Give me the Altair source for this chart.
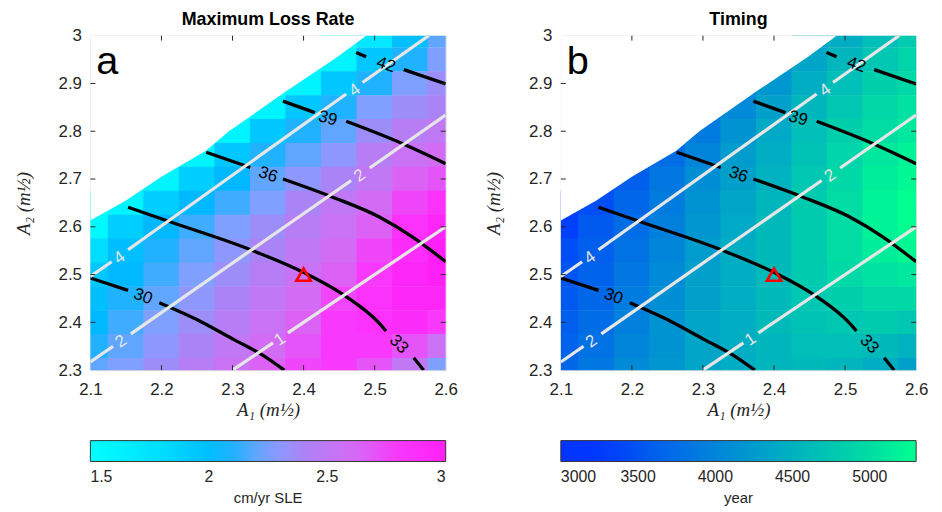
import altair as alt
import pandas as pd

# ---------------- data ----------------
A1 = [2.10, 2.15, 2.20, 2.25, 2.30, 2.35, 2.40, 2.45, 2.50, 2.55, 2.60]
A2 = [3.00, 2.95, 2.90, 2.85, 2.80, 2.75, 2.70, 2.65, 2.60, 2.55, 2.50, 2.45, 2.40, 2.35, 2.30]
N = None

# Maximum loss rate (cm/yr SLE); rows follow A2, columns follow A1
LOSS_RATE = [
    [N, N, N, N, N, N, N, 1.50, 1.70, 2.00, 2.20],
    [N, N, N, N, N, N, 1.50, 1.60, 1.95, 2.10, 2.25],
    [N, N, N, N, N, 1.50, 1.60, 1.95, 2.10, 2.25, 2.35],
    [N, N, N, N, 1.50, 1.60, 1.95, 2.10, 2.25, 2.35, 2.40],
    [N, N, N, 1.50, 1.60, 1.95, 2.10, 2.20, 2.35, 2.45, 2.50],
    [N, N, 1.50, 1.60, 1.95, 2.10, 2.20, 2.30, 2.45, 2.55, 2.60],
    [N, 1.50, 1.60, 1.90, 2.05, 2.20, 2.30, 2.40, 2.50, 2.65, 2.70],
    [1.50, 1.60, 1.90, 2.05, 2.15, 2.25, 2.40, 2.50, 2.60, 2.75, 2.85],
    [1.55, 1.90, 2.05, 2.15, 2.25, 2.35, 2.45, 2.55, 2.65, 2.85, 2.95],
    [1.80, 2.00, 2.10, 2.20, 2.30, 2.40, 2.50, 2.60, 2.75, 2.90, 3.00],
    [1.95, 2.05, 2.15, 2.25, 2.35, 2.45, 2.55, 2.65, 2.80, 2.95, 3.00],
    [2.00, 2.10, 2.20, 2.30, 2.40, 2.50, 2.60, 2.75, 2.85, 2.95, 2.95],
    [2.05, 2.15, 2.25, 2.35, 2.45, 2.55, 2.65, 2.80, 2.85, 2.90, 2.80],
    [2.10, 2.20, 2.30, 2.40, 2.50, 2.60, 2.70, 2.80, 2.80, 2.70, 2.55],
    [2.20, 2.25, 2.35, 2.45, 2.55, 2.65, 2.75, 2.80, 2.70, 2.50, 2.25],
]

# Timing (year); rows follow A2, columns follow A1
TIMING = [
    [N, N, N, N, N, N, N, 4300, 4450, 4650, 4800],
    [N, N, N, N, N, N, 4150, 4350, 4550, 4750, 4900],
    [N, N, N, N, N, 4000, 4200, 4450, 4650, 4850, 4950],
    [N, N, N, N, 3850, 4050, 4300, 4550, 4750, 4950, 5050],
    [N, N, N, 3700, 3900, 4150, 4400, 4650, 4850, 5000, 5100],
    [N, N, 3550, 3750, 4000, 4250, 4450, 4700, 4900, 5100, 5200],
    [N, 3450, 3600, 3850, 4100, 4300, 4500, 4750, 4950, 5150, 5250],
    [3350, 3450, 3700, 3900, 4150, 4350, 4550, 4800, 5000, 5200, 5300],
    [3350, 3550, 3750, 3950, 4200, 4400, 4600, 4800, 5000, 5200, 5300],
    [3450, 3600, 3800, 4000, 4250, 4450, 4600, 4800, 5000, 5150, 5250],
    [3500, 3650, 3850, 4050, 4300, 4450, 4600, 4800, 4950, 5050, 5100],
    [3550, 3700, 3900, 4100, 4300, 4450, 4600, 4750, 4850, 4950, 4950],
    [3600, 3750, 3950, 4150, 4350, 4450, 4600, 4700, 4750, 4800, 4750],
    [3650, 3800, 4000, 4150, 4350, 4450, 4550, 4650, 4650, 4600, 4500],
    [3700, 3850, 4050, 4200, 4350, 4450, 4550, 4600, 4550, 4450, 4300],
]

# upper limit of the valid parameter region
BOUNDARY_A1 = [2.100, 2.150, 2.200, 2.2625, 2.295, 2.376, 2.448, 2.488]
BOUNDARY_A2 = [2.613, 2.655, 2.705, 2.759, 2.800, 2.884, 2.956, 3.000]
TOP_A2 = 3.0

# black contours (segments broken at the labels)
C30 = [[(2.100, 2.493), (2.153, 2.467)],
       [(2.197, 2.441), (2.255, 2.402), (2.302, 2.364), (2.344, 2.330), (2.373, 2.300)]]
C33 = [[(2.153, 2.641), (2.213, 2.610), (2.327, 2.551), (2.402, 2.503), (2.460, 2.454),
        (2.506, 2.399), (2.516, 2.382)],
       [(2.555, 2.326), (2.569, 2.300)]]
C36 = [[(2.263, 2.756), (2.325, 2.724)],
       [(2.371, 2.700), (2.441, 2.662), (2.506, 2.621), (2.553, 2.579), (2.600, 2.527)]]
C39 = [[(2.371, 2.863), (2.416, 2.839)],
       [(2.460, 2.821), (2.530, 2.780), (2.600, 2.732)]]
C42 = [[(2.474, 2.965), (2.488, 2.956)],
       [(2.541, 2.929), (2.600, 2.899)]]

# white contours
W4 = [[(2.100, 2.496), (2.130, 2.527)], [(2.153, 2.552), (2.460, 2.878)], [(2.483, 2.902), (2.576, 3.000)]]
W2 = [[(2.100, 2.317), (2.132, 2.350)], [(2.157, 2.376), (2.467, 2.697)], [(2.493, 2.723), (2.600, 2.834)]]
W1 = [[(2.300, 2.300), (2.357, 2.357)], [(2.378, 2.378), (2.600, 2.600)]]

BLACK_LABELS = ["30", "33", "36", "39", "42"]
BLACK_LABEL_A1 = [2.174, 2.534, 2.350, 2.434, 2.516]
BLACK_LABEL_A2 = [2.454, 2.354, 2.709, 2.827, 2.939]
BLACK_LABEL_ANGLE = [20, 46, 19, 15, 19]

WHITE_LABELS = ["4", "4", "2", "2", "1"]
WHITE_LABEL_A1 = [2.141, 2.472, 2.143, 2.479, 2.367]
WHITE_LABEL_A2 = [2.535, 2.886, 2.360, 2.707, 2.364]
WHITE_LABEL_ANGLE = [325, 325, 325, 325, 326]

TRIANGLE_A1 = [2.4]
TRIANGLE_A2 = [2.5]

X_TICKS = [2.1, 2.2, 2.3, 2.4, 2.5, 2.6]
Y_TICKS = [2.3, 2.4, 2.5, 2.6, 2.7, 2.8, 2.9, 3.0]

LOSS_TICKS = [1.5, 2, 2.5, 3]
LOSS_STOPS = [1.5, 1.8, 2.05, 2.25, 2.42, 2.5, 2.63, 2.8, 3.0]
LOSS_COLORS = ["#00ffff", "#00ddff", "#00b8ff", "#80a0ff", "#b080f5", "#c078f5", "#d868f5", "#f838fc", "#ff20f8"]
TIME_TICKS = [3000, 3500, 4000, 4500, 5000]
TIME_STOPS = [3000, 3300, 3500, 4000, 4500, 5000, 5300]
TIME_COLORS = ["#0033ff", "#0038ff", "#0055f2", "#0085da", "#00b2c0", "#00dca4", "#00ff90"]

# ---------------- tables ----------------
W, H = 358, 337
FONT = "Liberation Sans"
TXT = "#262626"


def grid_df(values):
    rows = []
    for i, y in enumerate(A2):
        for j, x in enumerate(A1):
            v = values[i][j]
            if v is not None:
                rows.append({"a1": x, "a2": y, "val": v})
    return pd.DataFrame(rows)


def seg_df(groups):
    rows = []
    for name, segs in groups:
        for si, seg in enumerate(segs):
            for k, (x, y) in enumerate(seg):
                rows.append({"seg": f"{name}-{si}", "k": k, "a1": x, "a2": y})
    return pd.DataFrame(rows)


loss_df = grid_df(LOSS_RATE)
time_df = grid_df(TIMING)
mask_df = pd.DataFrame({"a1": BOUNDARY_A1, "a2": BOUNDARY_A2})
black_df = seg_df([("30", C30), ("33", C33), ("36", C36), ("39", C39), ("42", C42)])
white_df = seg_df([("4", W4), ("2", W2), ("1", W1)])
black_lab = pd.DataFrame({"t": BLACK_LABELS, "a1": BLACK_LABEL_A1, "a2": BLACK_LABEL_A2, "ang": BLACK_LABEL_ANGLE})
white_lab = pd.DataFrame({"t": WHITE_LABELS, "a1": WHITE_LABEL_A1, "a2": WHITE_LABEL_A2, "ang": WHITE_LABEL_ANGLE})
tri_df = pd.DataFrame({"a1": TRIANGLE_A1, "a2": TRIANGLE_A2})
xt_df = pd.DataFrame({"a1": X_TICKS[1:-1]})
yt_df = pd.DataFrame({"a2": Y_TICKS[1:-1]})

XS = alt.Scale(domain=[2.1, 2.6], nice=False, zero=False)
YS = alt.Scale(domain=[2.3, 3.0], nice=False, zero=False)
XA = alt.Axis(values=X_TICKS, format="~g", title="A₁ (m½)", titleFont="Liberation Serif",
              titleFontStyle="italic", titleFontWeight="normal", titleFontSize=19, titleColor=TXT,
              labelFont=FONT, labelFontSize=17, labelColor=TXT, ticks=False, domain=False,
              grid=False, labelPadding=12, titlePadding=3, labelFlush=False)
YA = alt.Axis(values=Y_TICKS, format="~g", title="A₂ (m½)", titleFont="Liberation Serif",
              titleFontStyle="italic", titleFontWeight="normal", titleFontSize=19, titleColor=TXT,
              labelFont=FONT, labelFontSize=17, labelColor=TXT, ticks=False, domain=False,
              grid=False, labelPadding=9, titlePadding=25, labelFlush=False)


def X(f="a1"):
    return alt.X(f"{f}:Q", scale=XS, axis=XA)


def Y(f="a2"):
    return alt.Y(f"{f}:Q", scale=YS, axis=YA)


def panel(df, stops, colors, ticks, cb_title, title, letter, fmt):
    heat = alt.Chart(df).transform_calculate(
        x0="datum.a1 - 0.0255", x1="datum.a1 + 0.0255",
        y0="datum.a2 - 0.0255", y1="datum.a2 + 0.0255",
    ).mark_rect(clip=True).encode(
        x=X("x0"), x2="x1:Q", y=Y("y0"), y2="y1:Q",
        color=alt.Color("val:Q",
                        scale=alt.Scale(domain=stops, range=colors, interpolate="rgb", clamp=True),
                        legend=alt.Legend(orient="none", legendX=0, legendY=408, direction="horizontal",
                                          gradientLength=W, gradientThickness=21, values=ticks, format=fmt,
                                          title=cb_title, titleOrient="bottom", titleAnchor="middle",
                                          titleFont=FONT, titleFontSize=15, titleFontWeight="normal",
                                          titleColor=TXT, titlePadding=6, labelFont=FONT, labelFontSize=16,
                                          labelColor=TXT, labelAlign="center", labelOverlap=False,
                                          labelOffset=8, gradientStrokeColor="#333333",
                                          gradientStrokeWidth=1, padding=0)),
    )
    mask = alt.Chart(mask_df).mark_area(color="white", clip=True).encode(
        x=X(), y=Y(), y2=alt.datum(TOP_A2))
    blk = alt.Chart(black_df).mark_line(color="black", strokeWidth=3.3, interpolate="monotone",
                                        clip=True, strokeCap="butt").encode(
        x=X(), y=Y(), detail="seg:N", order="k:Q")
    wht = alt.Chart(white_df).mark_line(color="#e6e6e6", strokeWidth=3.2, clip=True,
                                        strokeCap="butt").encode(
        x=X(), y=Y(), detail="seg:N", order="k:Q")
    blab = alt.Chart(black_lab).mark_text(font=FONT, fontSize=17, color="black", align="center",
                                          baseline="middle").encode(
        x=X(), y=Y(), text="t:N", angle=alt.Angle("ang:Q", scale=None))
    wlab = alt.Chart(white_lab).mark_text(font=FONT, fontSize=17, color="#e6e6e6", align="center",
                                          baseline="middle").encode(
        x=X(), y=Y(), text="t:N", angle=alt.Angle("ang:Q", scale=None))
    tri = alt.Chart(tri_df).mark_point(shape="triangle-up", filled=False, color="red", strokeWidth=2.6,
                                       size=210, opacity=1).encode(x=X(), y=Y())
    let = alt.Chart(pd.DataFrame({"t": [letter]})).mark_text(
        font=FONT, fontSize=40, align="left", baseline="alphabetic", color="black").encode(
        x=alt.value(6), y=alt.value(39), text="t:N")
    xt_b = alt.Chart(xt_df).mark_rule(color=TXT, strokeWidth=1).encode(x=X(), y=alt.value(H), y2=alt.value(H - 5))
    xt_t = alt.Chart(xt_df).mark_rule(color=TXT, strokeWidth=1).encode(x=X(), y=alt.value(0), y2=alt.value(5))
    yt_l = alt.Chart(yt_df).mark_rule(color=TXT, strokeWidth=1).encode(y=Y(), x=alt.value(0), x2=alt.value(5))
    yt_r = alt.Chart(yt_df).mark_rule(color=TXT, strokeWidth=1).encode(y=Y(), x=alt.value(W), x2=alt.value(W - 5))
    return alt.layer(heat, mask, blk, wht, wlab, blab, tri, let, xt_b, xt_t, yt_l, yt_r).properties(
        width=W, height=H,
        title=alt.Title(title, font=FONT, fontSize=18, fontWeight="bold", color="black", offset=-2,
                        anchor="middle", frame="group"),
    )


pa = panel(loss_df, LOSS_STOPS, LOSS_COLORS, LOSS_TICKS, "cm/yr SLE", "Maximum Loss Rate", "a", "~g")
pb = panel(time_df, TIME_STOPS, TIME_COLORS, TIME_TICKS, "year", "Timing", "b", "d")

chart = alt.hconcat(pa, pb, spacing=25).resolve_scale(color="independent").properties(
    padding={"left": 5, "top": 0, "right": 5, "bottom": 0}
).configure_view(stroke="#4d4d4d", strokeWidth=1).configure(background="white")

chart.save("out.html", embed_options={"renderer": "svg", "actions": False})
